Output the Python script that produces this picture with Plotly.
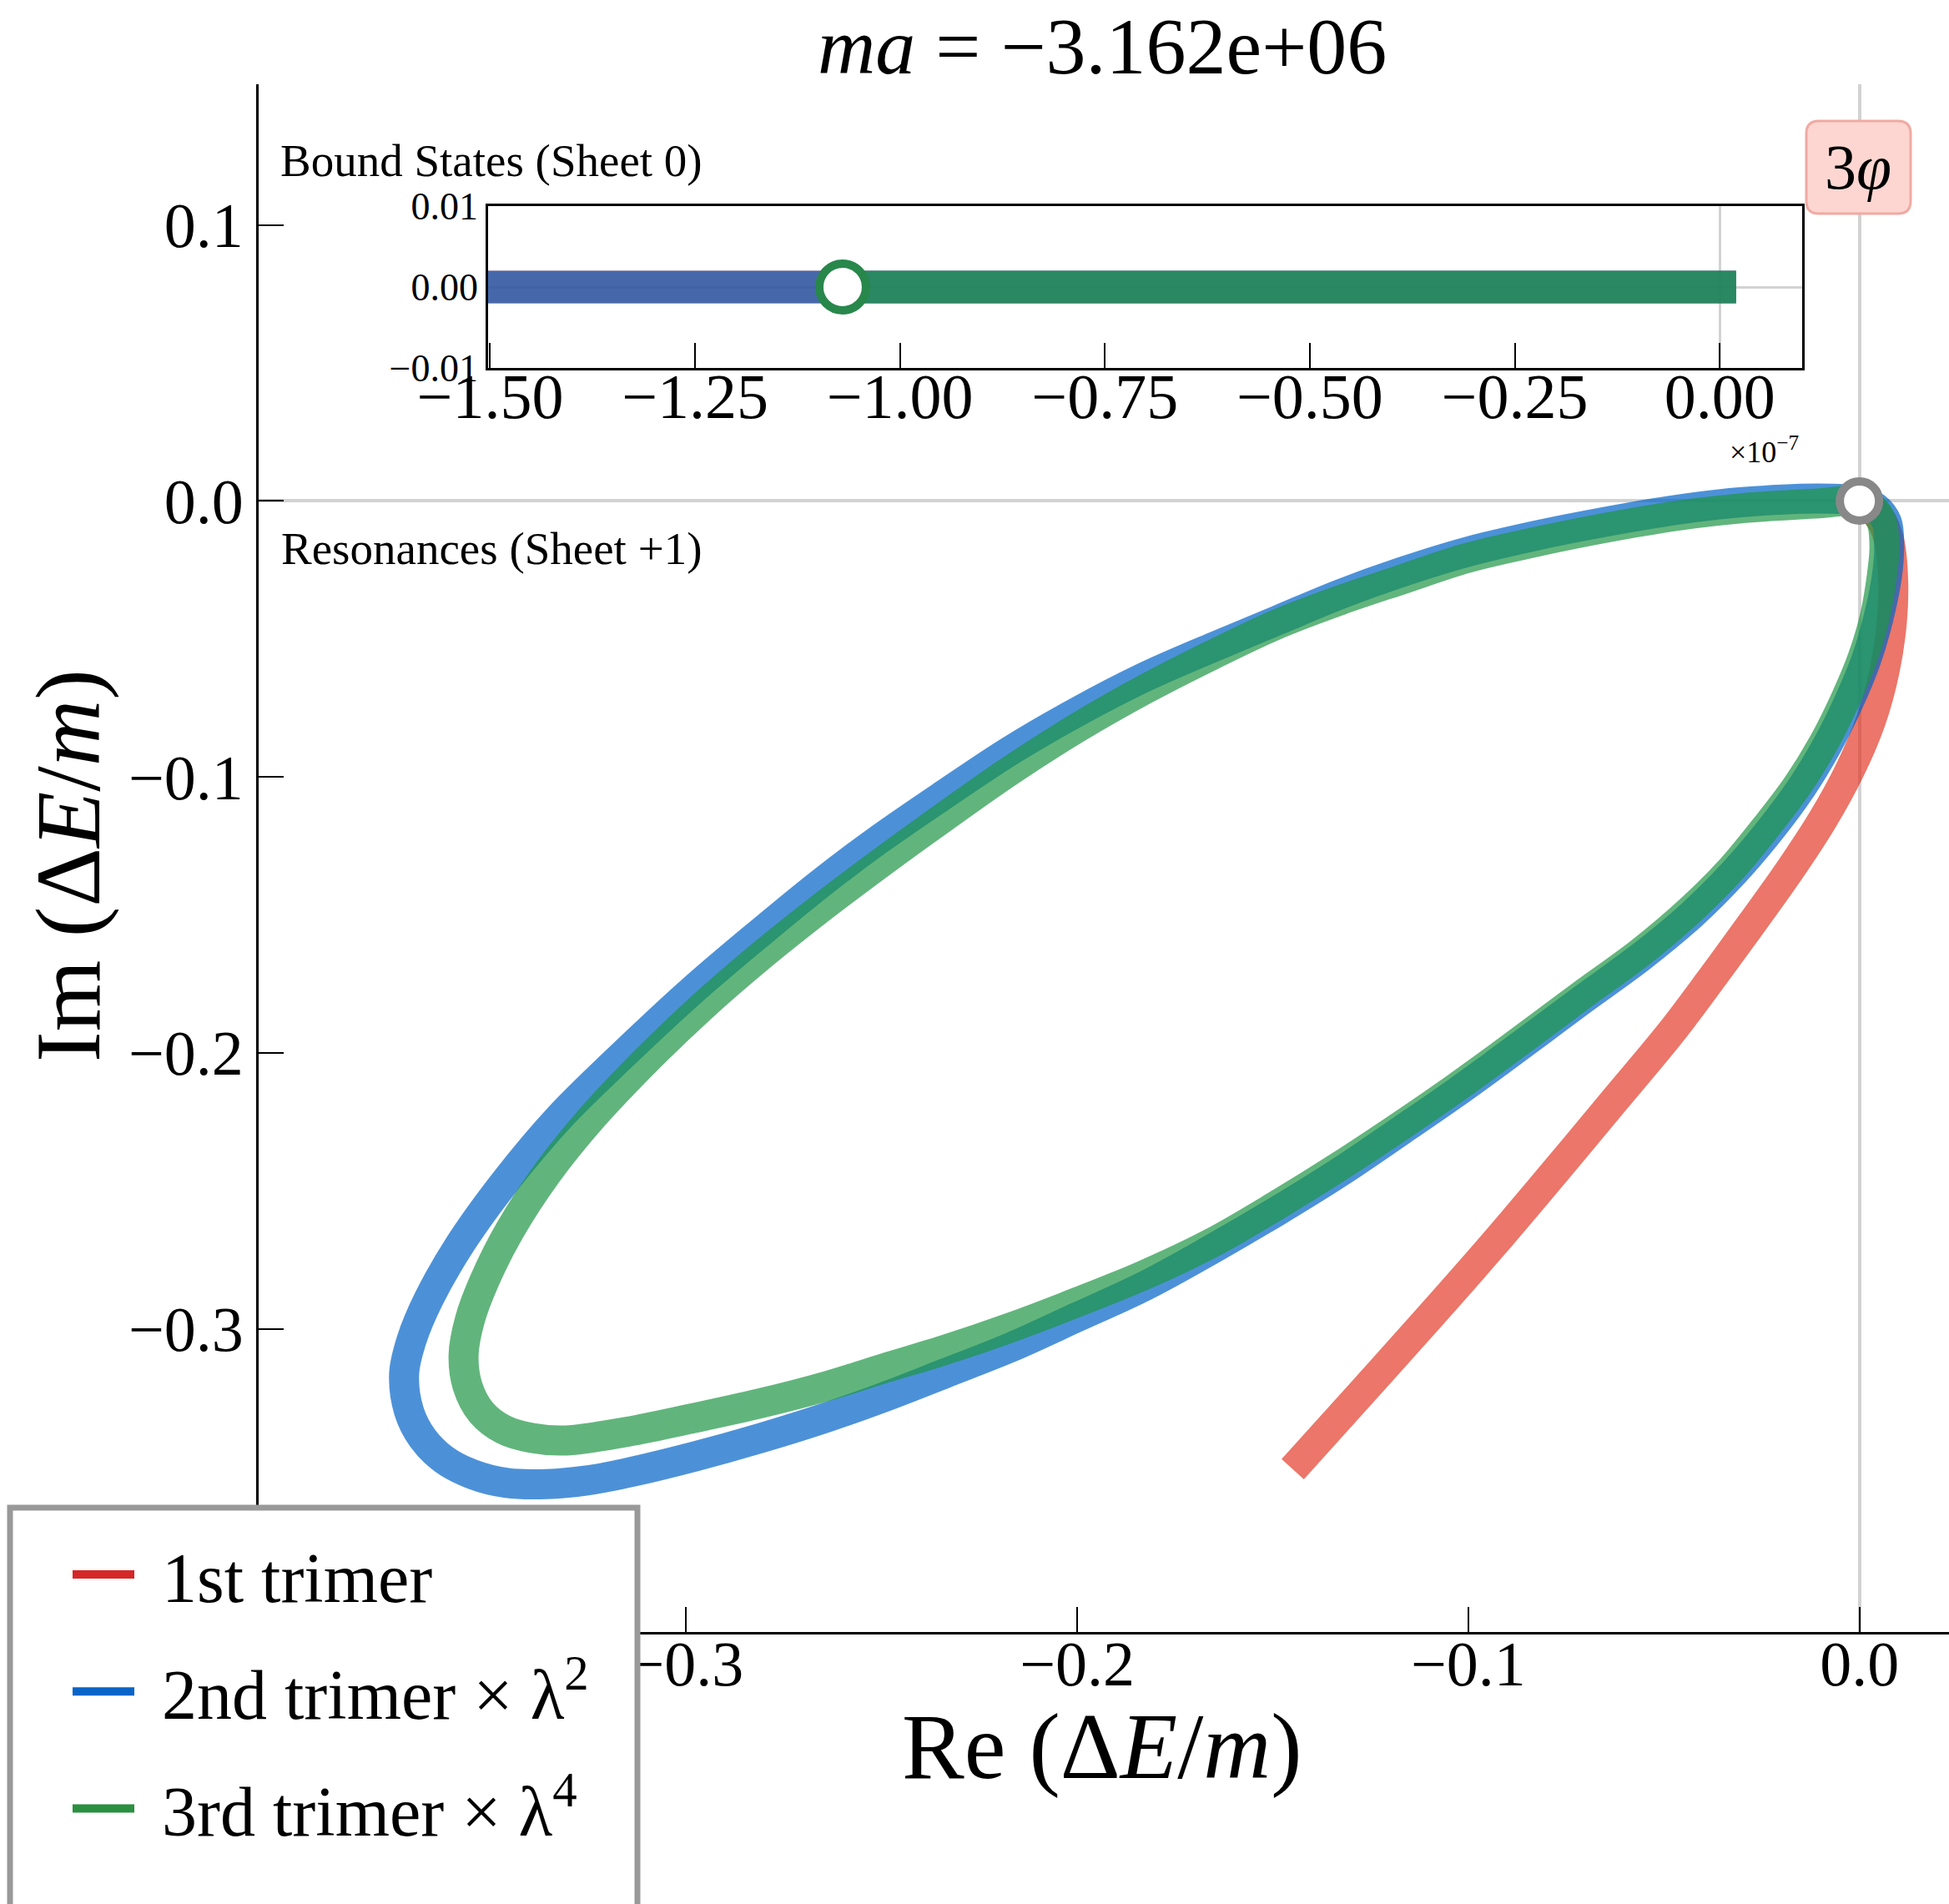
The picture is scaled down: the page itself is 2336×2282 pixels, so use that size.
import plotly.graph_objects as go

# Resonance trajectories on sheet +1: Re and Im of (Delta E / m)
re_trimer1 = [0.0, 0.0051, 0.0076, 0.0086, 0.0083, 0.0064, 0.0029, -0.0025, -0.0095,
              -0.0178, -0.0273, -0.0375, -0.0480, -0.0623, -0.0782, -0.0941, -0.1100,
              -0.1274, -0.1449]
im_trimer1 = [0.0, -0.0059, -0.0144, -0.0279, -0.0437, -0.0617, -0.0797, -0.0977, -0.1158,
              -0.1338, -0.1527, -0.1725, -0.1923, -0.2167, -0.2437, -0.2703, -0.2959,
              -0.3234, -0.3509]

re_trimer2 = [0.0, -0.0105, -0.0305, -0.0467, -0.0655, -0.0829, -0.1004, -0.1169, -0.1328,
              -0.1487, -0.1656, -0.1830, -0.2002, -0.2171, -0.2339, -0.2514, -0.2657,
              -0.2809, -0.2981, -0.3156, -0.3324, -0.3461, -0.3578, -0.3658, -0.3702,
              -0.3721, -0.3709, -0.3674, -0.3620, -0.3547, -0.3458, -0.3356, -0.3254,
              -0.3153, -0.2981, -0.2809, -0.2638,
              -0.2495, -0.2339, -0.2171, -0.2002, -0.1830, -0.1656, -0.1487, -0.1328,
              -0.1169, -0.1036, -0.0922, -0.0814, -0.0712, -0.0559, -0.0429, -0.0321,
              -0.0229, -0.0149, -0.0083, -0.0029, 0.0016, 0.0048, 0.0070, 0.0076,
              0.0070, 0.0041, 0.0]
im_trimer2 = [0.0, 0.0009, -0.0005, -0.0032, -0.0077, -0.0126, -0.0185, -0.0257, -0.0338,
              -0.0432, -0.0532, -0.0640, -0.0766, -0.0905, -0.1063, -0.1234, -0.1387,
              -0.1563, -0.1770, -0.2000, -0.2234, -0.2464, -0.2694, -0.2892, -0.3041,
              -0.3162, -0.3297, -0.3396, -0.3473, -0.3527, -0.3559, -0.3563, -0.3550,
              -0.3523, -0.3464, -0.3396, -0.3320,
              -0.3248, -0.3162, -0.3068, -0.2959, -0.2847, -0.2712, -0.2572, -0.2432,
              -0.2279, -0.2149, -0.2032, -0.1919, -0.1811, -0.1653, -0.1500, -0.1347,
              -0.1194, -0.1041, -0.0887, -0.0734, -0.0581, -0.0428, -0.0275, -0.0167,
              -0.0077, -0.0023, 0.0]

re_trimer3 = [0.0, -0.0105, -0.0305, -0.0467, -0.0655, -0.0829, -0.1004, -0.1169, -0.1328,
              -0.1487, -0.1656, -0.1830, -0.2002, -0.2171, -0.2339, -0.2514, -0.2657,
              -0.2809, -0.2959, -0.3102, -0.3238, -0.3356, -0.3451, -0.3515, -0.3553,
              -0.3569, -0.3559, -0.3524, -0.3467, -0.3394, -0.3308, -0.3153, -0.2981,
              -0.2809, -0.2638,
              -0.2495, -0.2339, -0.2171, -0.2002, -0.1830, -0.1656, -0.1487, -0.1328,
              -0.1169, -0.1036, -0.0922, -0.0814, -0.0712, -0.0559, -0.0432, -0.0327,
              -0.0238, -0.0159, -0.0092, -0.0038, 0.0006, 0.0038, 0.0057, 0.0064,
              0.0057, 0.0032, 0.0]
im_trimer3 = [0.0, -0.0009, -0.0027, -0.0054, -0.0099, -0.0149, -0.0207, -0.0284, -0.0360,
              -0.0446, -0.0559, -0.0685, -0.0824, -0.0977, -0.1144, -0.1324, -0.1477,
              -0.1649, -0.1833, -0.2027, -0.2230, -0.2437, -0.2644, -0.2824, -0.2968,
              -0.3095, -0.3207, -0.3302, -0.3365, -0.3396, -0.3405, -0.3374, -0.3324,
              -0.3270, -0.3207,
              -0.3144, -0.3077, -0.2996, -0.2905, -0.2806, -0.2689, -0.2550, -0.2410,
              -0.2261, -0.2131, -0.2014, -0.1901, -0.1793, -0.1635, -0.1482, -0.1333,
              -0.1180, -0.1032, -0.0878, -0.0725, -0.0577, -0.0428, -0.0275, -0.0167,
              -0.0077, -0.0023, 0.0]

# Threshold point where the trajectories meet
threshold_re = [0.0]
threshold_im = [0.0]

# Bound states on sheet 0, Re(Delta E / m) in units of 1e-7
bound_re_trimer1 = [-1.6, 0.02]
bound_re_trimer2 = [-1.6, 0.02]
bound_re_trimer3 = [-1.07, 0.02]
bound_im = [0.0, 0.0]
bound_onset_re = [-1.07]
bound_onset_im = [0.0]

main_xticks = [-0.4, -0.3, -0.2, -0.1, 0.0]
main_yticks = [-0.4, -0.3, -0.2, -0.1, 0.0, 0.1]
inset_xticks = [-1.5, -1.25, -1.0, -0.75, -0.5, -0.25, 0.0]
inset_yticks = [-0.01, 0.0, 0.01]

names = ["1st trimer", "2nd trimer × λ<sup>2</sup>", "3rd trimer × λ<sup>4</sup>"]
solid = ["rgb(214,39,40)", "rgb(10,100,200)", "rgb(42,144,64)"]
faded = ["rgba(225,45,25,0.65)", "rgba(0,98,200,0.7)", "rgba(30,150,68,0.7)"]


def minus(v, fmt):
    return (fmt % v).replace("-", "\u2212")


W, H = 2336, 2282
ML, MR, MT, MB = 310, 0, 101, 326
PW, PH = W - ML - MR, H - MT - MB


def px(x):
    return (x - ML) / PW


def py(y):
    return (H - MB - y) / PH


FONT = "Liberation Serif"
fig = go.Figure()

# main panel: resonance trajectories
for re_, im_, c in [(re_trimer1, im_trimer1, faded[0]),
                    (re_trimer2, im_trimer2, faded[1]),
                    (re_trimer3, im_trimer3, faded[2])]:
    fig.add_trace(go.Scatter(x=re_, y=im_, mode="lines", showlegend=False,
                             line=dict(color=c, width=36, shape="spline", smoothing=1.0),
                             hoverinfo="skip", xaxis="x", yaxis="y"))

fig.add_trace(go.Scatter(x=threshold_re, y=threshold_im, mode="markers", showlegend=False,
                         marker=dict(size=47, color="white",
                                     line=dict(color="#888888", width=10)),
                         xaxis="x", yaxis="y"))

# inset panel: bound states on the real axis
for bx, c in [(bound_re_trimer1, faded[0]), (bound_re_trimer2, faded[1]),
              (bound_re_trimer3, faded[2])]:
    fig.add_trace(go.Scatter(x=bx, y=bound_im, mode="lines", showlegend=False,
                             line=dict(color=c, width=39),
                             hoverinfo="skip", xaxis="x2", yaxis="y2"))

fig.add_trace(go.Scatter(x=bound_onset_re, y=bound_onset_im, mode="markers", showlegend=False,
                         marker=dict(size=56, color="white",
                                     line=dict(color="rgb(40,135,75)", width=10)),
                         xaxis="x2", yaxis="y2"))

# legend entries
for i, (n, c) in enumerate(zip(names, solid)):
    fig.add_trace(go.Scatter(x=[None], y=[None], mode="lines", name="\u00a0\u200a" + n,
                             legendgroup=str(i), line=dict(color=c, width=14)))

axis_common = dict(showgrid=False, showline=True, linecolor="black", ticks="inside",
                   tickcolor="black", tickwidth=2, zeroline=True,
                   zerolinecolor="#d2d2d2")

fig.update_layout(
    width=W, height=H, autosize=False,
    margin=dict(l=ML, r=MR, t=MT, b=MB, autoexpand=False),
    paper_bgcolor="white", plot_bgcolor="white",
    font=dict(family=FONT, color="black"),
    xaxis=dict(axis_common, domain=[0, 1], range=[-0.4093, 0.0229], linewidth=3,
               ticklen=30, zerolinewidth=4, tickvals=main_xticks,
               ticktext=[minus(v, "%.1f") for v in main_xticks],
               ticklabelstandoff=-30, tickfont=dict(size=76), anchor="y"),
    yaxis=dict(axis_common, domain=[0, 1], range=[-0.4099, 0.1510], linewidth=3,
               ticklen=30, zerolinewidth=4, tickvals=main_yticks,
               ticktext=[minus(v, "%.1f") for v in main_yticks],
               tickfont=dict(size=76), anchor="x"),
    xaxis2=dict(axis_common, domain=[px(585), px(2160)], range=[-1.5025, 0.1006],
                linewidth=2.5, mirror=True, ticklen=30, zerolinewidth=3,
                tickvals=inset_xticks,
                ticktext=[minus(v, "%.2f") for v in inset_xticks],
                ticklabelstandoff=-34, tickfont=dict(size=76), anchor="y2"),
    yaxis2=dict(axis_common, domain=[py(441), py(247)], range=[-0.0100001, 0.0100001],
                linewidth=2.5, mirror=True, ticks="", zerolinewidth=3,
                tickvals=inset_yticks,
                ticktext=[minus(v, "%.2f") for v in inset_yticks],
                tickfont=dict(size=46), anchor="x2"),
    showlegend=True,
    legend=dict(x=px(82), y=py(1826), xanchor="left", yanchor="top",
                bgcolor="rgba(0,0,0,0)", borderwidth=0, traceorder="grouped",
                tracegroupgap=28, itemwidth=74, font=dict(size=84, family=FONT)),
)

# legend frame (runs off the bottom of the figure)
fig.add_shape(type="rect", xref="paper", yref="paper",
              x0=px(12), x1=px(764), y0=py(2320), y1=py(1807),
              line=dict(color="#999999", width=7), fillcolor="white", layer="above")

# rounded label box in the top-right corner
x0, x1, y0, y1 = px(2165), px(2290), py(256), py(145)
rx, ry = 15 / PW, 15 / PH
path = (f"M {x0+rx},{y0} L {x1-rx},{y0} Q {x1},{y0} {x1},{y0+ry} "
        f"L {x1},{y1-ry} Q {x1},{y1} {x1-rx},{y1} L {x0+rx},{y1} "
        f"Q {x0},{y1} {x0},{y1-ry} L {x0},{y0+ry} Q {x0},{y0} {x0+rx},{y0} Z")
fig.add_shape(type="path", xref="paper", yref="paper", path=path,
              fillcolor="#fdd6d1", line=dict(color="#f0aaa3", width=3), layer="above")

annots = [
    dict(text="<i>ma</i> = −3.162e+06", x=px(1321), y=py(55), size=96,
         xanchor="center"),
    dict(text="Re (Δ<i>E</i>/<i>m</i>)", x=px(1320), y=py(2093), size=112,
         xanchor="center"),
    dict(text="Im (Δ<i>E</i>/<i>m</i>)", x=px(82), y=py(1038), size=110,
         xanchor="center", textangle=-90),
    dict(text="Bound States (Sheet 0)", x=px(334), y=py(192), size=55, xanchor="left"),
    dict(text="Resonances (Sheet +1)", x=px(335), y=py(657), size=55, xanchor="left"),
    dict(text="×10<sup>−7</sup>", x=px(2158), y=py(539), size=36, xanchor="right"),
    dict(text="3<i>φ</i>", x=px(2227), y=py(200), size=76, xanchor="center"),
]
for a in annots:
    fig.add_annotation(text=a["text"], x=a["x"], y=a["y"], xref="paper", yref="paper",
                       xanchor=a["xanchor"], yanchor="middle", showarrow=False,
                       textangle=a.get("textangle", 0),
                       font=dict(size=a["size"], family=FONT, color="black"))

fig.write_html("out.html")
